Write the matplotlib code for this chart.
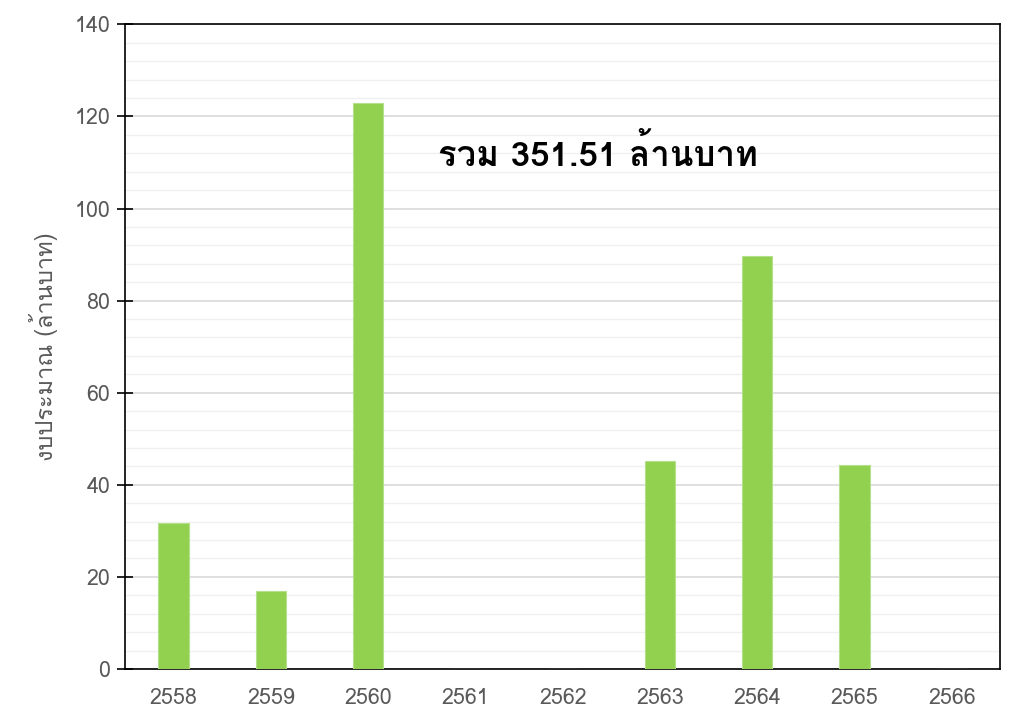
import matplotlib
matplotlib.use("Agg")
import matplotlib.pyplot as plt
from matplotlib import font_manager
from matplotlib.ft2font import FT2Font
from matplotlib.ticker import MultipleLocator

# data
years = ["2558", "2559", "2560", "2561", "2562", "2563", "2564", "2565", "2566"]
budget = [31.8, 17.0, 123.0, 0, 0, 45.1, 89.6, 44.4, 0]
total_label = "รวม 351.51 ล้านบาท"
y_label = "งบประมาณ (ล้านบาท)"

# find an installed font that has Thai glyphs
thai_fonts = []
for f in font_manager.fontManager.ttflist:
    try:
        if 0x0E23 in FT2Font(f.fname).get_charmap():
            if f.name not in thai_fonts:
                thai_fonts.append(f.name)
    except Exception:
        pass
plt.rcParams['font.family'] = ["Tahoma", "Verdana"] + thai_fonts + ["DejaVu Sans"]

fig = plt.figure(figsize=(10.24, 7.26), dpi=100)
ax = fig.add_axes([0.122, 0.0785, 0.855, 0.888])

x = range(len(years))
ax.bar(x, budget, width=0.31, color="#92D050", edgecolor="#B5E08A", linewidth=0.8, zorder=3)

ax.set_xlim(-0.5, len(years) - 0.5)
ax.set_ylim(0, 140)
ax.yaxis.set_major_locator(MultipleLocator(20))
ax.yaxis.set_minor_locator(MultipleLocator(4))
ax.grid(axis="y", which="major", color="#D9D9D9", linewidth=1.2, zorder=0)
ax.grid(axis="y", which="minor", color="#F0F0F0", linewidth=1.0, zorder=0)

ax.set_xticks(list(x))
ax.set_xticklabels(years)
ax.tick_params(axis="x", length=0, pad=14, labelsize=15.5, labelcolor="#595959")
ax.tick_params(axis="y", which="major", direction="inout", length=11, width=1.2,
               labelsize=15.5, labelcolor="#595959", pad=5)
ax.tick_params(axis="y", which="minor", length=0)

for s in ax.spines.values():
    s.set_color("black")
    s.set_linewidth(1.2)

ax.set_ylabel(y_label, fontsize=17, color="#595959", labelpad=12)
ax.text(0.54, 0.80, total_label, transform=ax.transAxes, ha="center", va="center",
        fontsize=25, fontweight="bold", color="black")

plt.savefig("out.png")
